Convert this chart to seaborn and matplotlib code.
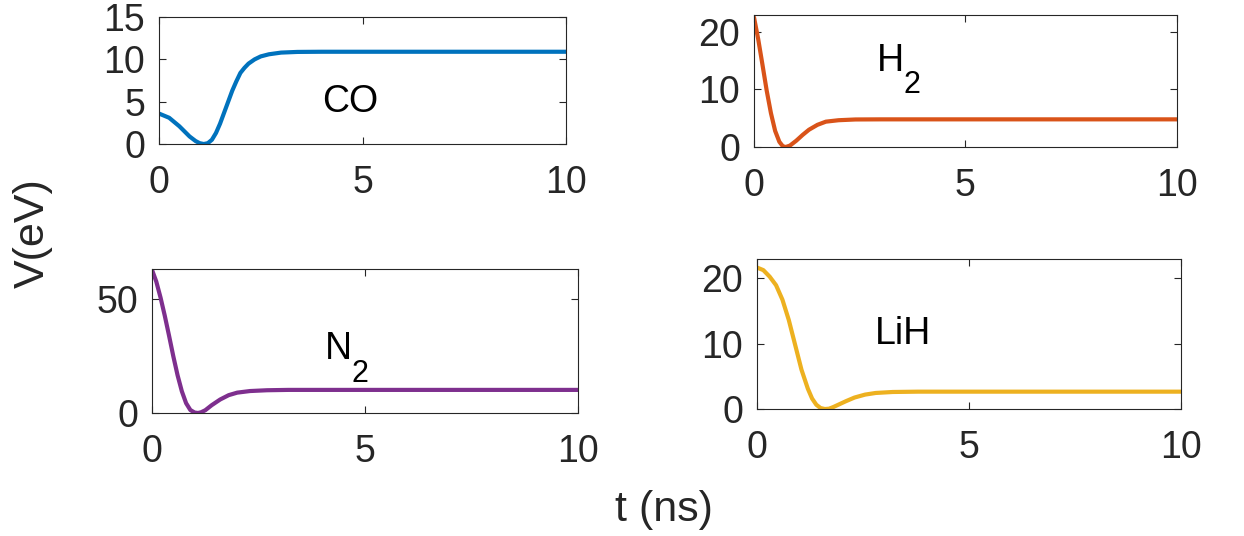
import pandas as pd
import matplotlib
matplotlib.use('Agg')
import matplotlib.pyplot as plt
import seaborn as sns

# values
t_co = [0, 0.25, 0.5, 0.75, 0.9, 1.0, 1.1, 1.2, 1.3, 1.4, 1.5, 1.6, 1.7, 1.8, 1.9,
        2.0, 2.1, 2.2, 2.35, 2.5, 2.7, 3.0, 3.4, 4.0, 10]
v_co = [3.6, 3.1, 2.1, 0.9, 0.35, 0.1, 0.0, 0.1, 0.5, 1.3, 2.4, 3.7, 5.0, 6.3, 7.4,
        8.4, 9.0, 9.5, 10.0, 10.35, 10.6, 10.8, 10.88, 10.9, 10.9]

t_h2 = [0, 0.1, 0.2, 0.3, 0.4, 0.5, 0.6, 0.68, 0.75, 0.85, 1.0, 1.15, 1.3, 1.5,
        1.7, 2.0, 2.4, 3.0, 10]
v_h2 = [22.5, 18.7, 14.3, 9.8, 5.9, 2.8, 0.9, 0.15, 0.0, 0.25, 1.1, 2.1, 3.0, 3.85,
        4.4, 4.65, 4.78, 4.8, 4.8]

t_n2 = [0, 0.1, 0.2, 0.3, 0.4, 0.5, 0.6, 0.7, 0.8, 0.9, 1.0, 1.08, 1.15, 1.25,
        1.4, 1.6, 1.8, 2.0, 2.3, 2.7, 3.2, 10]
v_n2 = [62.6, 57.5, 50.5, 42.5, 33.8, 24.8, 16.5, 9.5, 4.3, 1.3, 0.2, 0.0, 0.3, 1.2,
        3.4, 5.9, 7.8, 8.9, 9.6, 9.95, 10.1, 10.1]

t_lih = [0, 0.15, 0.3, 0.45, 0.6, 0.75, 0.9, 1.05, 1.2, 1.3, 1.4, 1.5, 1.6, 1.7,
         1.8, 1.95, 2.1, 2.3, 2.55, 2.8, 3.2, 3.8, 10]
v_lih = [21.6, 21.2, 20.2, 18.9, 16.7, 13.6, 9.8, 6.0, 3.1, 1.6, 0.65, 0.15, 0.0, 0.05,
         0.3, 0.75, 1.2, 1.75, 2.2, 2.45, 2.6, 2.65, 2.65]

labels = ['CO', 'H', 'N', 'LiH']
subs = ['', '2', '2', '']
colors = ['#0072BD', '#D95319', '#7E2F8E', '#EDB120']
yticks = [[0, 5, 10, 15], [0, 10, 20], [0, 50], [0, 10, 20]]
ylims = [(0, 15), (0, 22.9), (0, 63), (0, 22.9)]
xticks = [0, 5, 10]

sns.set_style('ticks')
plt.rcParams['font.family'] = ['Liberation Sans', 'DejaVu Sans']

fig = plt.figure(figsize=(12.44, 5.36), dpi=100)

# axes boxes in figure fractions
boxes = [[0.1278, 0.7313, 0.3272, 0.2369],
         [0.6061, 0.7257, 0.3400, 0.2463],
         [0.1222, 0.2295, 0.3424, 0.2687],
         [0.6085, 0.2369, 0.3408, 0.2799]]
text_pos = [(4.0, 5.0), (2.9, 15.0), (4.06, 28.0), (2.78, 11.5)]

series = [(t_co, v_co), (t_h2, v_h2), (t_n2, v_n2), (t_lih, v_lih)]
for i, (t, v) in enumerate(series):
    ax = fig.add_axes(boxes[i])
    df = pd.DataFrame({'t': t, 'V': v})
    sns.lineplot(data=df, x='t', y='V', ax=ax, color=colors[i], lw=3)
    ax.set_xlim(0, 10)
    ax.set_ylim(*ylims[i])
    ax.set_xticks(xticks)
    ax.set_yticks(yticks[i])
    ax.set_xlabel('')
    ax.set_ylabel('')
    for s in ax.spines.values():
        s.set_visible(True)
        s.set_color('#262626')
        s.set_linewidth(0.8)
    ax.tick_params(direction='in', top=True, right=True, length=5, width=0.8,
                   color='#262626', labelcolor='#262626')
    ax.tick_params(axis='x', labelsize=27, pad=15)
    ax.tick_params(axis='y', labelsize=27, pad=10)
    txt = ax.text(text_pos[i][0], text_pos[i][1], labels[i], fontsize=27,
                  ha='left', va='center', color='black')
    if subs[i]:
        ax.annotate(subs[i], xy=(1, 0), xycoords=txt, xytext=(0, 6),
                    textcoords='offset points', ha='left', va='top',
                    fontsize=22, color='black')

fig.text(0.026, 0.565, 'V(eV)', rotation=90, fontsize=31, ha='center', va='center',
         color='#262626')
fig.text(0.534, 0.048, 't (ns)', fontsize=31, ha='center', va='center', color='#262626')

fig.savefig('out.png', dpi=100)
